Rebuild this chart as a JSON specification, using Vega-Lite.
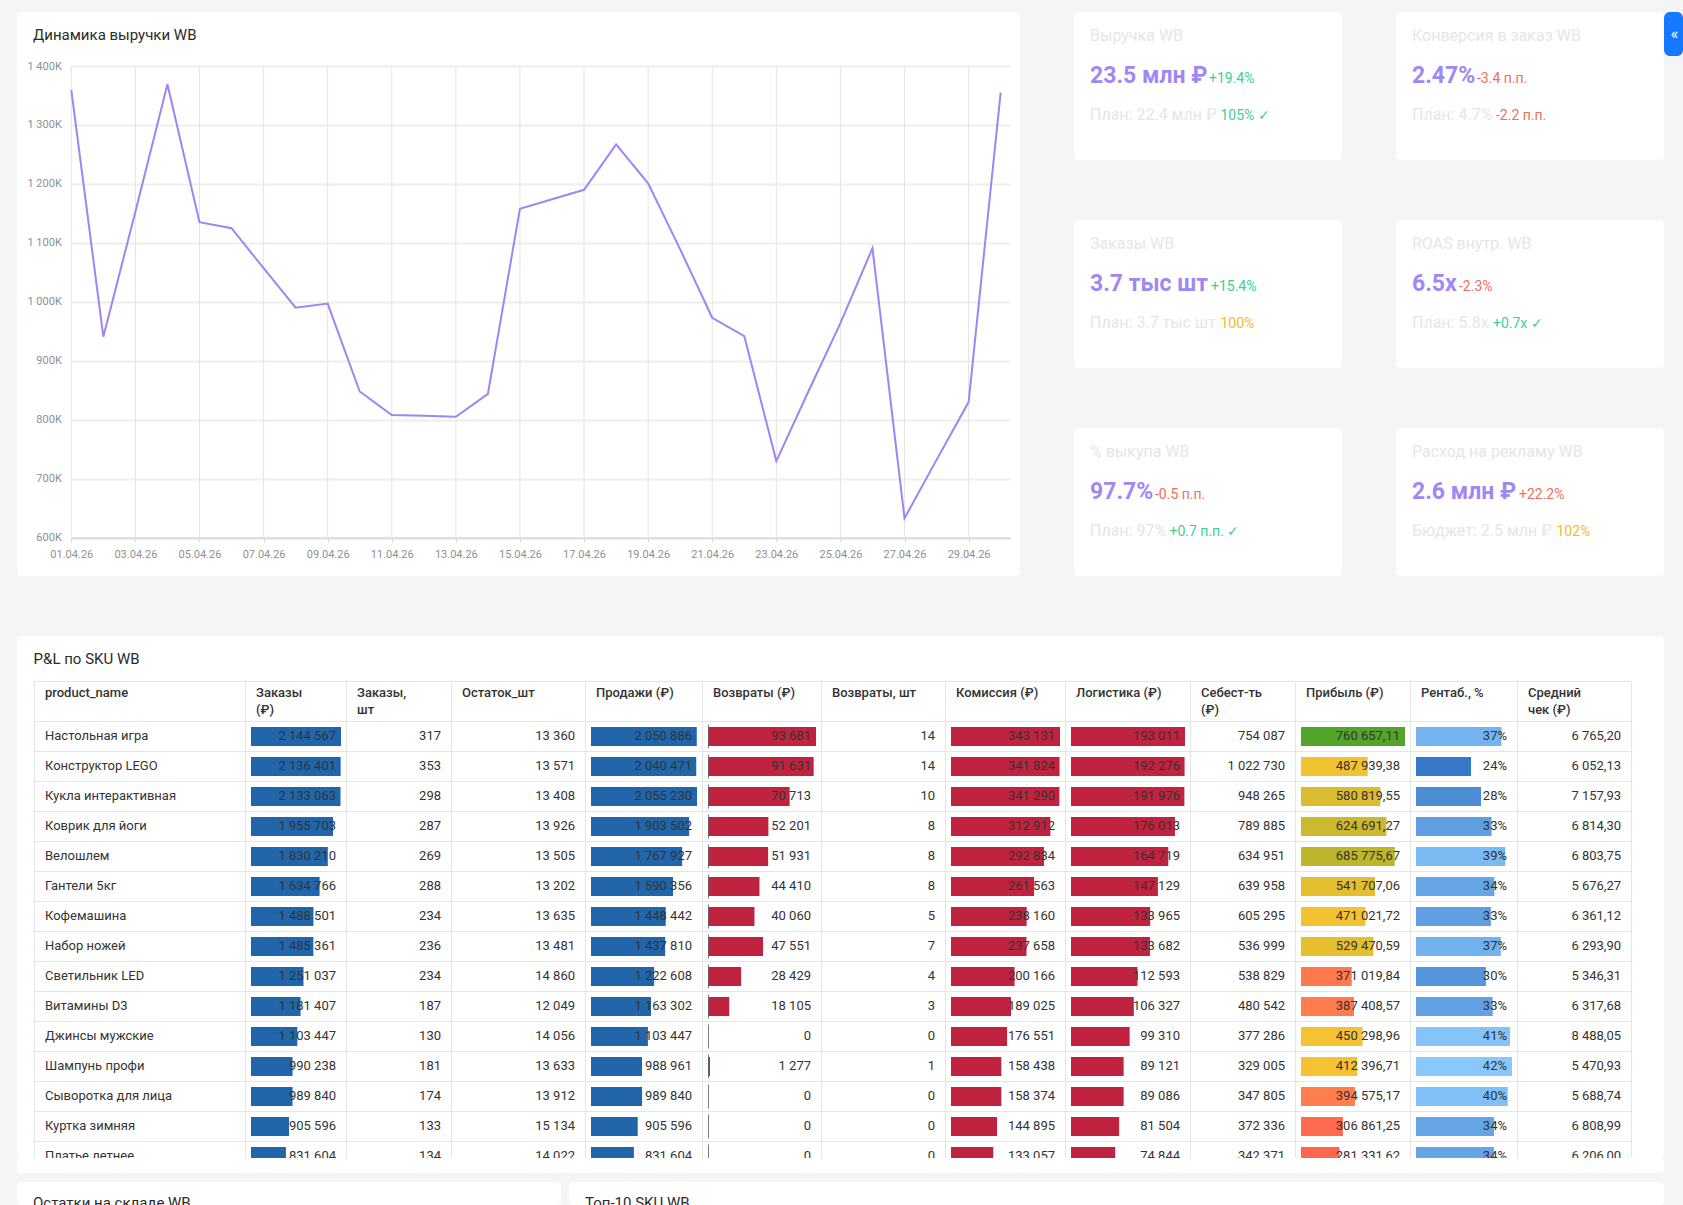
{
  "$schema": "https://vega.github.io/schema/vega-lite/v6.json",
  "background": "#f4f5f7",
  "padding": {"left": 17, "top": 12, "right": 0, "bottom": 0},
  "config": {
    "font": "Roboto",
    "view": {"stroke": null},
    "locale": {"number": {"decimal": ",", "thousands": "\u00a0", "grouping": [3], "currency": ["", ""]}}
  },
  "datasets": {
    "revenue": [
      {"date": "2026-04-01", "revenue": 1359000}, {"date": "2026-04-02", "revenue": 941000},
      {"date": "2026-04-03", "revenue": 1153000}, {"date": "2026-04-04", "revenue": 1369000},
      {"date": "2026-04-05", "revenue": 1135000}, {"date": "2026-04-06", "revenue": 1125000},
      {"date": "2026-04-07", "revenue": 1057000}, {"date": "2026-04-08", "revenue": 990000},
      {"date": "2026-04-09", "revenue": 997000}, {"date": "2026-04-10", "revenue": 848000},
      {"date": "2026-04-11", "revenue": 808000}, {"date": "2026-04-12", "revenue": 807000},
      {"date": "2026-04-13", "revenue": 805000}, {"date": "2026-04-14", "revenue": 844000},
      {"date": "2026-04-15", "revenue": 1158000}, {"date": "2026-04-16", "revenue": 1174000},
      {"date": "2026-04-17", "revenue": 1190000}, {"date": "2026-04-18", "revenue": 1267000},
      {"date": "2026-04-19", "revenue": 1201000}, {"date": "2026-04-20", "revenue": 1089000},
      {"date": "2026-04-21", "revenue": 973000}, {"date": "2026-04-22", "revenue": 942000},
      {"date": "2026-04-23", "revenue": 730000}, {"date": "2026-04-24", "revenue": 848000},
      {"date": "2026-04-25", "revenue": 964000}, {"date": "2026-04-26", "revenue": 1091000},
      {"date": "2026-04-27", "revenue": 633000}, {"date": "2026-04-28", "revenue": 732000},
      {"date": "2026-04-29", "revenue": 830000}, {"date": "2026-04-30", "revenue": 1355000}
    ],
    "pnl": [
      {"name": "Настольная игра", "orders_rub": 2144567, "orders_qty": 317, "stock": 13360, "sales": 2050886, "ret_rub": 93681, "ret_qty": 14, "commission": 343131, "logistics": 193011, "cost": 754087, "profit": 760657.11, "rent": 0.3709, "avg_check": 6765.20},
      {"name": "Конструктор LEGO", "orders_rub": 2136401, "orders_qty": 353, "stock": 13571, "sales": 2040471, "ret_rub": 91631, "ret_qty": 14, "commission": 341824, "logistics": 192276, "cost": 1022730, "profit": 487939.38, "rent": 0.2391, "avg_check": 6052.13},
      {"name": "Кукла интерактивная", "orders_rub": 2133063, "orders_qty": 298, "stock": 13408, "sales": 2055230, "ret_rub": 70713, "ret_qty": 10, "commission": 341290, "logistics": 191976, "cost": 948265, "profit": 580819.55, "rent": 0.2826, "avg_check": 7157.93},
      {"name": "Коврик для йоги", "orders_rub": 1955703, "orders_qty": 287, "stock": 13926, "sales": 1903502, "ret_rub": 52201, "ret_qty": 8, "commission": 312912, "logistics": 176013, "cost": 789885, "profit": 624691.27, "rent": 0.3282, "avg_check": 6814.30},
      {"name": "Велошлем", "orders_rub": 1830210, "orders_qty": 269, "stock": 13505, "sales": 1767927, "ret_rub": 51931, "ret_qty": 8, "commission": 292834, "logistics": 164719, "cost": 634951, "profit": 685775.67, "rent": 0.3879, "avg_check": 6803.75},
      {"name": "Гантели 5кг", "orders_rub": 1634766, "orders_qty": 288, "stock": 13202, "sales": 1590356, "ret_rub": 44410, "ret_qty": 8, "commission": 261563, "logistics": 147129, "cost": 639958, "profit": 541707.06, "rent": 0.3406, "avg_check": 5676.27},
      {"name": "Кофемашина", "orders_rub": 1488501, "orders_qty": 234, "stock": 13635, "sales": 1448442, "ret_rub": 40060, "ret_qty": 5, "commission": 238160, "logistics": 133965, "cost": 605295, "profit": 471021.72, "rent": 0.3252, "avg_check": 6361.12},
      {"name": "Набор ножей", "orders_rub": 1485361, "orders_qty": 236, "stock": 13481, "sales": 1437810, "ret_rub": 47551, "ret_qty": 7, "commission": 237658, "logistics": 133682, "cost": 536999, "profit": 529470.59, "rent": 0.3682, "avg_check": 6293.90},
      {"name": "Светильник LED", "orders_rub": 1251037, "orders_qty": 234, "stock": 14860, "sales": 1222608, "ret_rub": 28429, "ret_qty": 4, "commission": 200166, "logistics": 112593, "cost": 538829, "profit": 371019.84, "rent": 0.3035, "avg_check": 5346.31},
      {"name": "Витамины D3", "orders_rub": 1181407, "orders_qty": 187, "stock": 12049, "sales": 1163302, "ret_rub": 18105, "ret_qty": 3, "commission": 189025, "logistics": 106327, "cost": 480542, "profit": 387408.57, "rent": 0.3330, "avg_check": 6317.68},
      {"name": "Джинсы мужские", "orders_rub": 1103447, "orders_qty": 130, "stock": 14056, "sales": 1103447, "ret_rub": 0, "ret_qty": 0, "commission": 176551, "logistics": 99310, "cost": 377286, "profit": 450298.96, "rent": 0.4081, "avg_check": 8488.05},
      {"name": "Шампунь профи", "orders_rub": 990238, "orders_qty": 181, "stock": 13633, "sales": 988961, "ret_rub": 1277, "ret_qty": 1, "commission": 158438, "logistics": 89121, "cost": 329005, "profit": 412396.71, "rent": 0.4170, "avg_check": 5470.93},
      {"name": "Сыворотка для лица", "orders_rub": 989840, "orders_qty": 174, "stock": 13912, "sales": 989840, "ret_rub": 0, "ret_qty": 0, "commission": 158374, "logistics": 89086, "cost": 347805, "profit": 394575.17, "rent": 0.3986, "avg_check": 5688.74},
      {"name": "Куртка зимняя", "orders_rub": 905596, "orders_qty": 133, "stock": 15134, "sales": 905596, "ret_rub": 0, "ret_qty": 0, "commission": 144895, "logistics": 81504, "cost": 372336, "profit": 306861.25, "rent": 0.3388, "avg_check": 6808.99},
      {"name": "Платье летнее", "orders_rub": 831604, "orders_qty": 134, "stock": 14022, "sales": 831604, "ret_rub": 0, "ret_qty": 0, "commission": 133057, "logistics": 74844, "cost": 342371, "profit": 281331.62, "rent": 0.3383, "avg_check": 6206.00}
    ],
    "cols": [
      {"idx": 0, "header": ["product_name"]}, {"idx": 1, "header": ["Заказы", "(₽)"]},
      {"idx": 2, "header": ["Заказы,", "шт"]}, {"idx": 3, "header": ["Остаток_шт"]},
      {"idx": 4, "header": ["Продажи (₽)"]}, {"idx": 5, "header": ["Возвраты (₽)"]},
      {"idx": 6, "header": ["Возвраты, шт"]}, {"idx": 7, "header": ["Комиссия (₽)"]},
      {"idx": 8, "header": ["Логистика (₽)"]}, {"idx": 9, "header": ["Себест-ть", "(₽)"]},
      {"idx": 10, "header": ["Прибыль (₽)"]}, {"idx": 11, "header": ["Рентаб., %"]},
      {"idx": 12, "header": ["Средний", "чек (₽)"]}, {"idx": 13, "header": [""]}
    ],
    "kpi": [
      {"id": "rev", "title": "Выручка WB", "value": "23.5 млн ₽", "delta": "+19.4%", "delta_tone": "good", "plan": "План: 22.4 млн ₽", "status": "105% ✓", "status_tone": "good"},
      {"id": "conv", "title": "Конверсия в заказ WB", "value": "2.47%", "delta": "-3.4 п.п.", "delta_tone": "bad", "plan": "План: 4.7%", "status": "-2.2 п.п.", "status_tone": "bad"},
      {"id": "orders", "title": "Заказы WB", "value": "3.7 тыс шт", "delta": "+15.4%", "delta_tone": "good", "plan": "План: 3.7 тыс шт", "status": "100%", "status_tone": "warn"},
      {"id": "roas", "title": "ROAS внутр. WB", "value": "6.5x", "delta": "-2.3%", "delta_tone": "bad", "plan": "План: 5.8x", "status": "+0.7x ✓", "status_tone": "good"},
      {"id": "buyout", "title": "% выкупа WB", "value": "97.7%", "delta": "-0.5 п.п.", "delta_tone": "bad", "plan": "План: 97%", "status": "+0.7 п.п. ✓", "status_tone": "good"},
      {"id": "ads", "title": "Расход на рекламу WB", "value": "2.6 млн ₽", "delta": "+22.2%", "delta_tone": "bad", "plan": "Бюджет: 2.5 млн ₽", "status": "102%", "status_tone": "warn"}
    ]
  },
  "spacing": 60,
  "vconcat": [
    {
      "spacing": 54,
      "hconcat": [
        {
          "width": 1003, "height": 564,
          "view": {"fill": "#ffffff", "cornerRadius": 4},
          "title": {"text": "Динамика выручки WB", "anchor": "start", "frame": "group", "dx": 16, "offset": -30.5, "fontSize": 15, "fontWeight": "normal", "color": "#2b2b2b"},
          "data": {"name": "revenue"},
          "encoding": {
            "x": {"field": "date", "type": "temporal",
              "scale": {"type": "utc", "domain": [{"year": 2026, "month": 4, "date": 1, "utc": true}, {"year": 2026, "month": 4, "date": 30, "hours": 7, "utc": true}], "range": [54.3, 993]},
              "axis": {"title": null, "orient": "bottom", "offset": -38.3, "format": "%d.%m.%y", "tickCount": {"interval": "day", "step": 2}, "labelFontSize": 11, "labelColor": "#8f8f8f", "labelPadding": 7, "labelFlush": false, "labelOverlap": false, "ticks": true, "tickSize": 4, "tickColor": "#d6d6d6", "domain": true, "domainColor": "#dcdcdc", "domainWidth": 2, "grid": false}}
          },
          "layer": [
            {
              "transform": [{"filter": "utcdate(toDate(datum.date)) % 2 === 1"}],
              "mark": {"type": "rule", "color": "#e4e4e4", "strokeWidth": 1},
              "encoding": {
                "y": {"datum": 600000, "type": "quantitative",
                  "scale": {"domain": [600000, 1400000], "range": [525.7, 54], "nice": false, "zero": false},
                  "axis": {"title": null, "orient": "left", "offset": -54.3, "values": [600000, 700000, 800000, 900000, 1000000, 1100000, 1200000, 1300000, 1400000], "labelExpr": "replace(format(datum.value / 1000, ','), ',', ' ') + 'K'", "labelFontSize": 11, "labelColor": "#8f8f8f", "labelPadding": 10, "ticks": false, "domain": false, "grid": true, "gridColor": "#eeeeee", "gridWidth": 2}},
                "y2": {"datum": 1400000}
              }
            },
            {
              "mark": {"type": "line", "color": "#9d85f5", "strokeWidth": 2},
              "encoding": {
                "y": {"field": "revenue", "type": "quantitative",
                  "scale": {"domain": [600000, 1400000], "range": [525.7, 54], "nice": false, "zero": false},
                  "axis": {"title": null, "orient": "left", "offset": -54.3, "values": [600000, 700000, 800000, 900000, 1000000, 1100000, 1200000, 1300000, 1400000], "labelExpr": "replace(format(datum.value / 1000, ','), ',', ' ') + 'K'", "labelFontSize": 11, "labelColor": "#8f8f8f", "labelPadding": 10, "ticks": false, "domain": false, "grid": true, "gridColor": "#eeeeee", "gridWidth": 2}}
              }
            }
          ]
        },
        {
          "spacing": 60,
          "vconcat": [
            {
              "width": 268, "height": 148, "view": {"fill": "#ffffff", "cornerRadius": 4},
              "data": {"name": "kpi"}, "transform": [{"filter": "datum.id === 'rev'"}],
              "layer": [
                {"mark": {"type": "text", "align": "left", "baseline": "middle", "fontSize": 16, "color": "#e6e6e6"}, "encoding": {"x": {"value": 16}, "y": {"value": 23.5}, "text": {"field": "title"}}},
                {"mark": {"type": "text", "align": "left", "baseline": "alphabetic", "fontSize": 23, "fontWeight": "bold", "color": "#9f87f6"}, "encoding": {"x": {"value": 16}, "y": {"value": 71}, "text": {"field": "value"}}},
                {"mark": {"type": "text", "align": "left", "baseline": "alphabetic", "fontSize": 14}, "encoding": {"x": {"value": 135}, "y": {"value": 71}, "text": {"field": "delta"}, "color": {"field": "delta_tone", "type": "nominal", "scale": {"domain": ["good", "bad", "warn"], "range": ["#3dcf96", "#f06e5b", "#f6b92b"]}, "legend": null}}},
                {"mark": {"type": "text", "align": "left", "baseline": "alphabetic", "fontSize": 16, "color": "#e6e6e6"}, "encoding": {"x": {"value": 16}, "y": {"value": 108}, "text": {"field": "plan"}}},
                {"mark": {"type": "text", "align": "left", "baseline": "alphabetic", "fontSize": 14}, "encoding": {"x": {"value": 146.5}, "y": {"value": 108}, "text": {"field": "status"}, "color": {"field": "status_tone", "type": "nominal", "scale": {"domain": ["good", "bad", "warn"], "range": ["#3dcf96", "#f06e5b", "#f6b92b"]}, "legend": null}}}
              ]
            },
            {
              "width": 268, "height": 148, "view": {"fill": "#ffffff", "cornerRadius": 4},
              "data": {"name": "kpi"}, "transform": [{"filter": "datum.id === 'orders'"}],
              "layer": [
                {"mark": {"type": "text", "align": "left", "baseline": "middle", "fontSize": 16, "color": "#e6e6e6"}, "encoding": {"x": {"value": 16}, "y": {"value": 23.5}, "text": {"field": "title"}}},
                {"mark": {"type": "text", "align": "left", "baseline": "alphabetic", "fontSize": 23, "fontWeight": "bold", "color": "#9f87f6"}, "encoding": {"x": {"value": 16}, "y": {"value": 71}, "text": {"field": "value"}}},
                {"mark": {"type": "text", "align": "left", "baseline": "alphabetic", "fontSize": 14}, "encoding": {"x": {"value": 137}, "y": {"value": 71}, "text": {"field": "delta"}, "color": {"field": "delta_tone", "type": "nominal", "scale": {"domain": ["good", "bad", "warn"], "range": ["#3dcf96", "#f06e5b", "#f6b92b"]}, "legend": null}}},
                {"mark": {"type": "text", "align": "left", "baseline": "alphabetic", "fontSize": 16, "color": "#e6e6e6"}, "encoding": {"x": {"value": 16}, "y": {"value": 108}, "text": {"field": "plan"}}},
                {"mark": {"type": "text", "align": "left", "baseline": "alphabetic", "fontSize": 14}, "encoding": {"x": {"value": 146.5}, "y": {"value": 108}, "text": {"field": "status"}, "color": {"field": "status_tone", "type": "nominal", "scale": {"domain": ["good", "bad", "warn"], "range": ["#3dcf96", "#f06e5b", "#f6b92b"]}, "legend": null}}}
              ]
            },
            {
              "width": 268, "height": 148, "view": {"fill": "#ffffff", "cornerRadius": 4},
              "data": {"name": "kpi"}, "transform": [{"filter": "datum.id === 'buyout'"}],
              "layer": [
                {"mark": {"type": "text", "align": "left", "baseline": "middle", "fontSize": 16, "color": "#e6e6e6"}, "encoding": {"x": {"value": 16}, "y": {"value": 23.5}, "text": {"field": "title"}}},
                {"mark": {"type": "text", "align": "left", "baseline": "alphabetic", "fontSize": 23, "fontWeight": "bold", "color": "#9f87f6"}, "encoding": {"x": {"value": 16}, "y": {"value": 71}, "text": {"field": "value"}}},
                {"mark": {"type": "text", "align": "left", "baseline": "alphabetic", "fontSize": 14}, "encoding": {"x": {"value": 81}, "y": {"value": 71}, "text": {"field": "delta"}, "color": {"field": "delta_tone", "type": "nominal", "scale": {"domain": ["good", "bad", "warn"], "range": ["#3dcf96", "#f06e5b", "#f6b92b"]}, "legend": null}}},
                {"mark": {"type": "text", "align": "left", "baseline": "alphabetic", "fontSize": 16, "color": "#e6e6e6"}, "encoding": {"x": {"value": 16}, "y": {"value": 108}, "text": {"field": "plan"}}},
                {"mark": {"type": "text", "align": "left", "baseline": "alphabetic", "fontSize": 14}, "encoding": {"x": {"value": 95.5}, "y": {"value": 108}, "text": {"field": "status"}, "color": {"field": "status_tone", "type": "nominal", "scale": {"domain": ["good", "bad", "warn"], "range": ["#3dcf96", "#f06e5b", "#f6b92b"]}, "legend": null}}}
              ]
            }
          ]
        },
        {
          "spacing": 60,
          "vconcat": [
            {
              "spacing": 0,
              "hconcat": [
                {
                  "width": 268, "height": 148, "view": {"fill": "#ffffff", "cornerRadius": 4},
                  "data": {"name": "kpi"}, "transform": [{"filter": "datum.id === 'conv'"}],
                  "layer": [
                    {"mark": {"type": "text", "align": "left", "baseline": "middle", "fontSize": 16, "color": "#e6e6e6"}, "encoding": {"x": {"value": 16}, "y": {"value": 23.5}, "text": {"field": "title"}}},
                    {"mark": {"type": "text", "align": "left", "baseline": "alphabetic", "fontSize": 23, "fontWeight": "bold", "color": "#9f87f6"}, "encoding": {"x": {"value": 16}, "y": {"value": 71}, "text": {"field": "value"}}},
                    {"mark": {"type": "text", "align": "left", "baseline": "alphabetic", "fontSize": 14}, "encoding": {"x": {"value": 81}, "y": {"value": 71}, "text": {"field": "delta"}, "color": {"field": "delta_tone", "type": "nominal", "scale": {"domain": ["good", "bad", "warn"], "range": ["#3dcf96", "#f06e5b", "#f6b92b"]}, "legend": null}}},
                    {"mark": {"type": "text", "align": "left", "baseline": "alphabetic", "fontSize": 16, "color": "#e6e6e6"}, "encoding": {"x": {"value": 16}, "y": {"value": 108}, "text": {"field": "plan"}}},
                    {"mark": {"type": "text", "align": "left", "baseline": "alphabetic", "fontSize": 14}, "encoding": {"x": {"value": 100}, "y": {"value": 108}, "text": {"field": "status"}, "color": {"field": "status_tone", "type": "nominal", "scale": {"domain": ["good", "bad", "warn"], "range": ["#3dcf96", "#f06e5b", "#f6b92b"]}, "legend": null}}}
                  ]
                },
                {
                  "width": 19, "height": 44, "view": {"fill": "#1677ff", "cornerRadius": 6},
                  "data": {"values": [{"t": "«"}]},
                  "mark": {"type": "text", "color": "#ffffff", "fontSize": 17, "dx": 1},
                  "encoding": {"text": {"field": "t"}}
                }
              ]
            },
            {
              "width": 268, "height": 148, "view": {"fill": "#ffffff", "cornerRadius": 4},
              "data": {"name": "kpi"}, "transform": [{"filter": "datum.id === 'roas'"}],
              "layer": [
                {"mark": {"type": "text", "align": "left", "baseline": "middle", "fontSize": 16, "color": "#e6e6e6"}, "encoding": {"x": {"value": 16}, "y": {"value": 23.5}, "text": {"field": "title"}}},
                {"mark": {"type": "text", "align": "left", "baseline": "alphabetic", "fontSize": 23, "fontWeight": "bold", "color": "#9f87f6"}, "encoding": {"x": {"value": 16}, "y": {"value": 71}, "text": {"field": "value"}}},
                {"mark": {"type": "text", "align": "left", "baseline": "alphabetic", "fontSize": 14}, "encoding": {"x": {"value": 63}, "y": {"value": 71}, "text": {"field": "delta"}, "color": {"field": "delta_tone", "type": "nominal", "scale": {"domain": ["good", "bad", "warn"], "range": ["#3dcf96", "#f06e5b", "#f6b92b"]}, "legend": null}}},
                {"mark": {"type": "text", "align": "left", "baseline": "alphabetic", "fontSize": 16, "color": "#e6e6e6"}, "encoding": {"x": {"value": 16}, "y": {"value": 108}, "text": {"field": "plan"}}},
                {"mark": {"type": "text", "align": "left", "baseline": "alphabetic", "fontSize": 14}, "encoding": {"x": {"value": 97}, "y": {"value": 108}, "text": {"field": "status"}, "color": {"field": "status_tone", "type": "nominal", "scale": {"domain": ["good", "bad", "warn"], "range": ["#3dcf96", "#f06e5b", "#f6b92b"]}, "legend": null}}}
              ]
            },
            {
              "width": 268, "height": 148, "view": {"fill": "#ffffff", "cornerRadius": 4},
              "data": {"name": "kpi"}, "transform": [{"filter": "datum.id === 'ads'"}],
              "layer": [
                {"mark": {"type": "text", "align": "left", "baseline": "middle", "fontSize": 16, "color": "#e6e6e6"}, "encoding": {"x": {"value": 16}, "y": {"value": 23.5}, "text": {"field": "title"}}},
                {"mark": {"type": "text", "align": "left", "baseline": "alphabetic", "fontSize": 23, "fontWeight": "bold", "color": "#9f87f6"}, "encoding": {"x": {"value": 16}, "y": {"value": 71}, "text": {"field": "value"}}},
                {"mark": {"type": "text", "align": "left", "baseline": "alphabetic", "fontSize": 14}, "encoding": {"x": {"value": 123}, "y": {"value": 71}, "text": {"field": "delta"}, "color": {"field": "delta_tone", "type": "nominal", "scale": {"domain": ["good", "bad", "warn"], "range": ["#3dcf96", "#f06e5b", "#f6b92b"]}, "legend": null}}},
                {"mark": {"type": "text", "align": "left", "baseline": "alphabetic", "fontSize": 16, "color": "#e6e6e6"}, "encoding": {"x": {"value": 16}, "y": {"value": 108}, "text": {"field": "plan"}}},
                {"mark": {"type": "text", "align": "left", "baseline": "alphabetic", "fontSize": 14}, "encoding": {"x": {"value": 160.5}, "y": {"value": 108}, "text": {"field": "status"}, "color": {"field": "status_tone", "type": "nominal", "scale": {"domain": ["good", "bad", "warn"], "range": ["#3dcf96", "#f06e5b", "#f6b92b"]}, "legend": null}}}
              ]
            }
          ]
        }
      ]
    },
    {
      "spacing": 9,
      "vconcat": [
        {
          "spacing": 0,
          "vconcat": [
            {
              "width": 1647, "height": 522,
              "view": {"fill": "#ffffff", "cornerRadius": 4},
              "title": {"text": "P&L по SKU WB", "anchor": "start", "frame": "group", "dx": 16.6, "offset": -30.5, "fontSize": 15, "fontWeight": "normal", "color": "#2b2b2b"},
              "data": {"name": "pnl"},
              "resolve": {"scale": {"x": "independent", "color": "independent"}},
              "layer": [
                {"mark": {"type": "rule", "color": "#e5e5e5", "strokeWidth": 1, "clip": true},
                 "encoding": {"y": {"field": "name", "type": "nominal", "sort": null, "bandPosition": 0, "axis": null, "scale": {"range": [85.5, 535.5], "paddingInner": 0, "paddingOuter": 0}},
                   "x": {"datum": 0, "type": "quantitative", "axis": null, "scale": {"domain": [0,1,2,3,4,5,6,7,8,9,10,11,12,13], "range": [17.5,228.5,329.5,434.5,568.5,685.5,804.5,928.5,1048.5,1173.5,1278.5,1393.5,1500.5,1614.5], "zero": false, "nice": false}},
                   "x2": {"datum": 13}}},
                {"data": {"values": [{"edge": "top"}]}, "mark": {"type": "rule", "color": "#e5e5e5", "strokeWidth": 1},
                 "encoding": {"y": {"value": 45.5},
                   "x": {"datum": 0, "type": "quantitative", "axis": null, "scale": {"domain": [0,1,2,3,4,5,6,7,8,9,10,11,12,13], "range": [17.5,228.5,329.5,434.5,568.5,685.5,804.5,928.5,1048.5,1173.5,1278.5,1393.5,1500.5,1614.5], "zero": false, "nice": false}},
                   "x2": {"datum": 13}}},
                {"data": {"name": "cols"}, "mark": {"type": "rule", "color": "#e5e5e5", "strokeWidth": 1, "clip": true},
                 "encoding": {"x": {"field": "idx", "type": "quantitative", "axis": null, "scale": {"domain": [0,1,2,3,4,5,6,7,8,9,10,11,12,13], "range": [17.5,228.5,329.5,434.5,568.5,685.5,804.5,928.5,1048.5,1173.5,1278.5,1393.5,1500.5,1614.5], "zero": false, "nice": false}},
                   "y": {"value": 45}, "y2": {"value": 522}}},
                {"mark": {"type": "bar", "height": 19, "color": "#2166aa", "clip": true},
                 "encoding": {"y": {"field": "name", "type": "nominal", "sort": null, "axis": null},
                   "x": {"field": "orders_rub", "type": "quantitative", "axis": null, "scale": {"domain": [0, 2144567], "range": [234, 324], "nice": false, "zero": true}}}},
                {"mark": {"type": "bar", "height": 19, "color": "#2166aa", "clip": true},
                 "encoding": {"y": {"field": "name", "type": "nominal", "sort": null, "axis": null},
                   "x": {"field": "sales", "type": "quantitative", "axis": null, "scale": {"domain": [0, 2055230], "range": [574, 680], "nice": false, "zero": true}}}},
                {"layer": [
                  {"mark": {"type": "bar", "height": 19, "color": "#c0233f", "clip": true},
                   "encoding": {"y": {"field": "name", "type": "nominal", "sort": null, "axis": null},
                     "x": {"field": "ret_rub", "type": "quantitative", "axis": null, "scale": {"domain": [0, 93681], "range": [691.5, 799], "nice": false, "zero": true}}}},
                  {"mark": {"type": "tick", "size": 24, "thickness": 1, "color": "#444444", "clip": true},
                   "encoding": {"y": {"field": "name", "type": "nominal", "sort": null, "axis": null},
                     "x": {"datum": 0, "type": "quantitative", "axis": null}}}
                ]},
                {"mark": {"type": "bar", "height": 19, "color": "#c0233f", "clip": true},
                 "encoding": {"y": {"field": "name", "type": "nominal", "sort": null, "axis": null},
                   "x": {"field": "commission", "type": "quantitative", "axis": null, "scale": {"domain": [0, 343131], "range": [934, 1043], "nice": false, "zero": true}}}},
                {"mark": {"type": "bar", "height": 19, "color": "#c0233f", "clip": true},
                 "encoding": {"y": {"field": "name", "type": "nominal", "sort": null, "axis": null},
                   "x": {"field": "logistics", "type": "quantitative", "axis": null, "scale": {"domain": [0, 193011], "range": [1054, 1168], "nice": false, "zero": true}}}},
                {"mark": {"type": "bar", "height": 19, "clip": true},
                 "encoding": {"y": {"field": "name", "type": "nominal", "sort": null, "axis": null},
                   "x": {"field": "profit", "type": "quantitative", "axis": null, "scale": {"domain": [0, 760657.11], "range": [1284, 1388], "nice": false, "zero": true}},
                   "color": {"field": "profit", "type": "quantitative", "legend": null, "scale": {"domain": [281331, 395000, 405000, 480000, 690000, 760657], "range": ["#ff6650", "#ff7e4d", "#f5c233", "#f3c232", "#bcb52b", "#52a529"], "clamp": true, "interpolate": "rgb"}}}},
                {"mark": {"type": "bar", "height": 19, "clip": true},
                 "encoding": {"y": {"field": "name", "type": "nominal", "sort": null, "axis": null},
                   "x": {"field": "rent", "type": "quantitative", "axis": null, "scale": {"domain": [0, 0.417], "range": [1399, 1495], "nice": false, "zero": true}},
                   "color": {"field": "rent", "type": "quantitative", "legend": null, "scale": {"domain": [0.239, 0.417], "range": ["#3878c8", "#88c8fc"], "clamp": true, "interpolate": "rgb"}}}},
                {"mark": {"type": "text", "align": "left", "baseline": "middle", "dx": 10.5, "dy": -1, "fontSize": 13, "color": "#333333", "clip": true},
                 "encoding": {"y": {"field": "name", "type": "nominal", "sort": null, "axis": null},
                   "x": {"datum": 0, "type": "quantitative", "axis": null, "scale": {"domain": [0,1,2,3,4,5,6,7,8,9,10,11,12,13], "range": [17.5,228.5,329.5,434.5,568.5,685.5,804.5,928.5,1048.5,1173.5,1278.5,1393.5,1500.5,1614.5], "zero": false, "nice": false}},
                   "text": {"field": "name"}}},
                {"mark": {"type": "text", "align": "right", "baseline": "middle", "dx": -10.5, "dy": -1, "fontSize": 13, "color": "#333333", "clip": true},
                 "encoding": {"y": {"field": "name", "type": "nominal", "sort": null, "axis": null},
                   "x": {"datum": 2, "type": "quantitative", "axis": null, "scale": {"domain": [0,1,2,3,4,5,6,7,8,9,10,11,12,13], "range": [17.5,228.5,329.5,434.5,568.5,685.5,804.5,928.5,1048.5,1173.5,1278.5,1393.5,1500.5,1614.5], "zero": false, "nice": false}},
                   "text": {"field": "orders_rub", "type": "quantitative", "format": ",d"}}},
                {"mark": {"type": "text", "align": "right", "baseline": "middle", "dx": -10.5, "dy": -1, "fontSize": 13, "color": "#333333", "clip": true},
                 "encoding": {"y": {"field": "name", "type": "nominal", "sort": null, "axis": null},
                   "x": {"datum": 3, "type": "quantitative", "axis": null, "scale": {"domain": [0,1,2,3,4,5,6,7,8,9,10,11,12,13], "range": [17.5,228.5,329.5,434.5,568.5,685.5,804.5,928.5,1048.5,1173.5,1278.5,1393.5,1500.5,1614.5], "zero": false, "nice": false}},
                   "text": {"field": "orders_qty", "type": "quantitative", "format": ",d"}}},
                {"mark": {"type": "text", "align": "right", "baseline": "middle", "dx": -10.5, "dy": -1, "fontSize": 13, "color": "#333333", "clip": true},
                 "encoding": {"y": {"field": "name", "type": "nominal", "sort": null, "axis": null},
                   "x": {"datum": 4, "type": "quantitative", "axis": null, "scale": {"domain": [0,1,2,3,4,5,6,7,8,9,10,11,12,13], "range": [17.5,228.5,329.5,434.5,568.5,685.5,804.5,928.5,1048.5,1173.5,1278.5,1393.5,1500.5,1614.5], "zero": false, "nice": false}},
                   "text": {"field": "stock", "type": "quantitative", "format": ",d"}}},
                {"mark": {"type": "text", "align": "right", "baseline": "middle", "dx": -10.5, "dy": -1, "fontSize": 13, "color": "#333333", "clip": true},
                 "encoding": {"y": {"field": "name", "type": "nominal", "sort": null, "axis": null},
                   "x": {"datum": 5, "type": "quantitative", "axis": null, "scale": {"domain": [0,1,2,3,4,5,6,7,8,9,10,11,12,13], "range": [17.5,228.5,329.5,434.5,568.5,685.5,804.5,928.5,1048.5,1173.5,1278.5,1393.5,1500.5,1614.5], "zero": false, "nice": false}},
                   "text": {"field": "sales", "type": "quantitative", "format": ",d"}}},
                {"mark": {"type": "text", "align": "right", "baseline": "middle", "dx": -10.5, "dy": -1, "fontSize": 13, "color": "#333333", "clip": true},
                 "encoding": {"y": {"field": "name", "type": "nominal", "sort": null, "axis": null},
                   "x": {"datum": 6, "type": "quantitative", "axis": null, "scale": {"domain": [0,1,2,3,4,5,6,7,8,9,10,11,12,13], "range": [17.5,228.5,329.5,434.5,568.5,685.5,804.5,928.5,1048.5,1173.5,1278.5,1393.5,1500.5,1614.5], "zero": false, "nice": false}},
                   "text": {"field": "ret_rub", "type": "quantitative", "format": ",d"}}},
                {"mark": {"type": "text", "align": "right", "baseline": "middle", "dx": -10.5, "dy": -1, "fontSize": 13, "color": "#333333", "clip": true},
                 "encoding": {"y": {"field": "name", "type": "nominal", "sort": null, "axis": null},
                   "x": {"datum": 7, "type": "quantitative", "axis": null, "scale": {"domain": [0,1,2,3,4,5,6,7,8,9,10,11,12,13], "range": [17.5,228.5,329.5,434.5,568.5,685.5,804.5,928.5,1048.5,1173.5,1278.5,1393.5,1500.5,1614.5], "zero": false, "nice": false}},
                   "text": {"field": "ret_qty", "type": "quantitative", "format": ",d"}}},
                {"mark": {"type": "text", "align": "right", "baseline": "middle", "dx": -10.5, "dy": -1, "fontSize": 13, "color": "#333333", "clip": true},
                 "encoding": {"y": {"field": "name", "type": "nominal", "sort": null, "axis": null},
                   "x": {"datum": 8, "type": "quantitative", "axis": null, "scale": {"domain": [0,1,2,3,4,5,6,7,8,9,10,11,12,13], "range": [17.5,228.5,329.5,434.5,568.5,685.5,804.5,928.5,1048.5,1173.5,1278.5,1393.5,1500.5,1614.5], "zero": false, "nice": false}},
                   "text": {"field": "commission", "type": "quantitative", "format": ",d"}}},
                {"mark": {"type": "text", "align": "right", "baseline": "middle", "dx": -10.5, "dy": -1, "fontSize": 13, "color": "#333333", "clip": true},
                 "encoding": {"y": {"field": "name", "type": "nominal", "sort": null, "axis": null},
                   "x": {"datum": 9, "type": "quantitative", "axis": null, "scale": {"domain": [0,1,2,3,4,5,6,7,8,9,10,11,12,13], "range": [17.5,228.5,329.5,434.5,568.5,685.5,804.5,928.5,1048.5,1173.5,1278.5,1393.5,1500.5,1614.5], "zero": false, "nice": false}},
                   "text": {"field": "logistics", "type": "quantitative", "format": ",d"}}},
                {"mark": {"type": "text", "align": "right", "baseline": "middle", "dx": -10.5, "dy": -1, "fontSize": 13, "color": "#333333", "clip": true},
                 "encoding": {"y": {"field": "name", "type": "nominal", "sort": null, "axis": null},
                   "x": {"datum": 10, "type": "quantitative", "axis": null, "scale": {"domain": [0,1,2,3,4,5,6,7,8,9,10,11,12,13], "range": [17.5,228.5,329.5,434.5,568.5,685.5,804.5,928.5,1048.5,1173.5,1278.5,1393.5,1500.5,1614.5], "zero": false, "nice": false}},
                   "text": {"field": "cost", "type": "quantitative", "format": ",d"}}},
                {"mark": {"type": "text", "align": "right", "baseline": "middle", "dx": -10.5, "dy": -1, "fontSize": 13, "color": "#333333", "clip": true},
                 "encoding": {"y": {"field": "name", "type": "nominal", "sort": null, "axis": null},
                   "x": {"datum": 11, "type": "quantitative", "axis": null, "scale": {"domain": [0,1,2,3,4,5,6,7,8,9,10,11,12,13], "range": [17.5,228.5,329.5,434.5,568.5,685.5,804.5,928.5,1048.5,1173.5,1278.5,1393.5,1500.5,1614.5], "zero": false, "nice": false}},
                   "text": {"field": "profit", "type": "quantitative", "format": ",.2f"}}},
                {"mark": {"type": "text", "align": "right", "baseline": "middle", "dx": -10.5, "dy": -1, "fontSize": 13, "color": "#333333", "clip": true},
                 "encoding": {"y": {"field": "name", "type": "nominal", "sort": null, "axis": null},
                   "x": {"datum": 12, "type": "quantitative", "axis": null, "scale": {"domain": [0,1,2,3,4,5,6,7,8,9,10,11,12,13], "range": [17.5,228.5,329.5,434.5,568.5,685.5,804.5,928.5,1048.5,1173.5,1278.5,1393.5,1500.5,1614.5], "zero": false, "nice": false}},
                   "text": {"field": "rent", "type": "quantitative", "format": ".0%"}}},
                {"mark": {"type": "text", "align": "right", "baseline": "middle", "dx": -10.5, "dy": -1, "fontSize": 13, "color": "#333333", "clip": true},
                 "encoding": {"y": {"field": "name", "type": "nominal", "sort": null, "axis": null},
                   "x": {"datum": 13, "type": "quantitative", "axis": null, "scale": {"domain": [0,1,2,3,4,5,6,7,8,9,10,11,12,13], "range": [17.5,228.5,329.5,434.5,568.5,685.5,804.5,928.5,1048.5,1173.5,1278.5,1393.5,1500.5,1614.5], "zero": false, "nice": false}},
                   "text": {"field": "avg_check", "type": "quantitative", "format": ",.2f"}}},
                {"data": {"name": "cols"}, "transform": [{"filter": "datum.idx < 13"}],
                 "mark": {"type": "text", "align": "left", "baseline": "alphabetic", "dx": 10.5, "fontSize": 13, "fontWeight": 500, "lineHeight": 16.3, "color": "#333333"},
                 "encoding": {"x": {"field": "idx", "type": "quantitative", "axis": null, "scale": {"domain": [0,1,2,3,4,5,6,7,8,9,10,11,12,13], "range": [17.5,228.5,329.5,434.5,568.5,685.5,804.5,928.5,1048.5,1173.5,1278.5,1393.5,1500.5,1614.5], "zero": false, "nice": false}},
                   "y": {"value": 61.3}, "text": {"field": "header"}}}
              ]
            },
            {
              "width": 1647, "height": 15,
              "view": {"fill": "#ffffff", "cornerRadius": 4},
              "data": {"values": [{"a": 1}]},
              "mark": {"type": "point", "opacity": 0}
            }
          ]
        },
        {
          "spacing": 8,
          "hconcat": [
            {
              "width": 544, "height": 23, "view": {"fill": "#ffffff", "cornerRadius": 4},
              "data": {"values": [{"t": "Остатки на складе WB"}]},
              "mark": {"type": "text", "align": "left", "baseline": "middle", "fontSize": 15, "color": "#2b2b2b", "clip": true},
              "encoding": {"x": {"value": 16}, "y": {"value": 21.3}, "text": {"field": "t"}}
            },
            {
              "width": 1095, "height": 23, "view": {"fill": "#ffffff", "cornerRadius": 4},
              "data": {"values": [{"t": "Топ-10 SKU WB"}]},
              "mark": {"type": "text", "align": "left", "baseline": "middle", "fontSize": 15, "color": "#2b2b2b", "clip": true},
              "encoding": {"x": {"value": 16}, "y": {"value": 21.3}, "text": {"field": "t"}}
            }
          ]
        }
      ]
    }
  ]
}
